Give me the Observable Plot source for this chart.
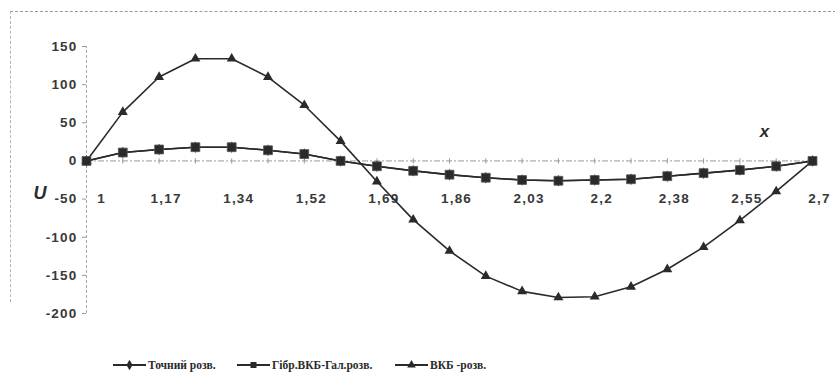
<!DOCTYPE html>
<html>
<head>
<meta charset="utf-8">
<script src="https://cdn.jsdelivr.net/npm/d3@7"></script>
<script src="https://cdn.jsdelivr.net/npm/@observablehq/plot@0.6"></script>
<style>
  html, body { margin: 0; padding: 0; background: #fff; }
  #wrap { position: relative; width: 835px; height: 392px; overflow: hidden; }
  #frame { position: absolute; left: 10px; top: 11px; width: 830px; height: 290px;
           border-top: 1px dashed #9a9a9a; border-left: 1px dashed #b5b5b5; }
  #chart { position: absolute; left: 0; top: 0; }
  #legend { position: absolute; left: 0; top: 350px; width: 835px; height: 42px;
            font-family: "Liberation Serif", "Times New Roman", serif; font-size: 11.5px;
            font-weight: bold; color: #2a2a2a; }
  .item { position: absolute; top: 9px; display: flex; align-items: center; white-space: nowrap; }
  .item svg { margin-right: 2px; }
</style>
</head>
<body>
<div id="wrap">
  <div id="frame"></div>
  <div id="chart"></div>
  <div id="legend"></div>
</div>
<script>
// ---- data ----
const xValues = [1, 1.085, 1.17, 1.255, 1.34, 1.425, 1.51, 1.595, 1.68, 1.765, 1.85,
                 1.935, 2.02, 2.105, 2.19, 2.275, 2.36, 2.445, 2.53, 2.615, 2.7];
const exactSolution = [0, 11, 15, 18, 18, 14, 9, 0, -7, -13, -18,
                       -22, -25, -26, -25, -24, -20, -16, -12, -7, 0];
const hybridSolution = [0, 11, 15, 18, 18, 14, 9, 0, -7, -13, -18,
                        -22, -25, -26, -25, -24, -20, -16, -12, -7, 0];
const wkbSolution = [0, 64, 110, 134, 134, 110, 73, 26, -27, -77, -118,
                     -151, -171, -179, -178, -165, -142, -113, -78, -40, 0];
const xTickPositions = [1, 1.17, 1.34, 1.51, 1.68, 1.85, 2.02, 2.19, 2.36, 2.53, 2.7];
const xTickLabels = ["1", "1,17", "1,34", "1,52", "1,69", "1,86", "2,03", "2,2", "2,38", "2,55", "2,7"];
const yTicks = [-200, -150, -100, -50, 0, 50, 100, 150];
const seriesNames = ["Точний розв.", "Гібр.ВКБ-Гал.розв.", "ВКБ -розв."];

const rows = xValues.map((x, i) => ({x, exact: exactSolution[i], hybrid: hybridSolution[i], wkb: wkbSolution[i]}));
const ticksX = xTickPositions.map((x, i) => ({x, label: xTickLabels[i]}));

const ink = "#2a2a2a";
const vtick = {draw(ctx, size) { const r = Math.sqrt(size) / 2; ctx.moveTo(0, -r); ctx.lineTo(0, r); }};

const chart = Plot.plot({
  width: 835,
  height: 350,
  marginLeft: 86,
  marginRight: 23,
  marginTop: 46,
  marginBottom: 37,
  style: {fontFamily: "'Liberation Sans', Arial, sans-serif", fontSize: "13.5px", fontWeight: "bold",
          color: "#383838", background: "transparent", letterSpacing: "1.2px"},
  x: {domain: [1, 2.7], axis: null},
  y: {domain: [-200, 150]},
  marks: [
    Plot.ruleX([xValues[0]], {y1: yTicks[0], y2: yTicks[yTicks.length - 1], stroke: "#aaa", strokeDasharray: "3,2"}),
    Plot.axisY({ticks: yTicks, tickFormat: d => String(d), tickSize: 4, tickPadding: 5, stroke: "#999", fill: "#383838", label: null}),
    Plot.ruleY([0], {stroke: "#999", strokeDasharray: "6,2,2,2"}),
    Plot.dot(xValues, {x: d => d, y: 0, symbol: vtick, r: 3, stroke: "#999", strokeWidth: 1}),
    Plot.text(ticksX.slice(0, 1), {x: "x", y: 0, text: "label", dy: 38, dx: 15, fill: "#383838"}),
    Plot.text(ticksX.slice(1), {x: "x", y: 0, text: "label", dy: 38, dx: 7, fill: "#383838"}),
    // exact solution (hidden under hybrid)
    Plot.line(rows, {x: "x", y: "exact", stroke: ink, strokeWidth: 1.5}),
    Plot.dot(rows, {x: "x", y: "exact", symbol: "diamond", r: 3.5, fill: ink}),
    // WKB
    Plot.line(rows, {x: "x", y: "wkb", stroke: ink, strokeWidth: 1.6}),
    Plot.dot(rows, {x: "x", y: "wkb", symbol: "triangle", r: 3.7, fill: ink}),
    // hybrid
    Plot.line(rows, {x: "x", y: "hybrid", stroke: ink, strokeWidth: 1.6}),
    Plot.dot(rows, {x: "x", y: "hybrid", symbol: "square", r: 5, fill: ink, stroke: "#555", strokeWidth: 0.8}),
    // axis titles
    Plot.text(["x"], {frameAnchor: "top-right", dx: -42, dy: 78, text: d => d, fontSize: 17, fontStyle: "italic", fontWeight: "bold", fill: "#2a2a2a"}),
    Plot.text(["U"], {frameAnchor: "top-left", dx: -53, dy: 140, text: d => d, fontSize: 18, fontStyle: "italic", fontWeight: "bold", fill: "#2a2a2a"})
  ]
});
document.getElementById("chart").appendChild(chart);

// ---- legend ----
const legend = document.getElementById("legend");
const symbols = ["diamond", "square", "triangle"];
const lefts = [113, 237, 395];
seriesNames.forEach((name, i) => {
  const item = document.createElement("div");
  item.className = "item";
  item.style.left = lefts[i] + "px";
  const sym = d3.symbol().type(symbols[i] === "diamond" ? d3.symbolDiamond : symbols[i] === "square" ? d3.symbolSquare : d3.symbolTriangle)
    .size(symbols[i] === "square" ? 36 : 32)();
  item.innerHTML = `<svg width="33" height="12"><line x1="0" x2="33" y1="6" y2="6" stroke="${ink}" stroke-width="1.8"/>` +
    `<path d="${sym}" transform="translate(16.5,6)" fill="${ink}"/></svg><span>${name}</span>`;
  legend.appendChild(item);
});
</script>
</body>
</html>
